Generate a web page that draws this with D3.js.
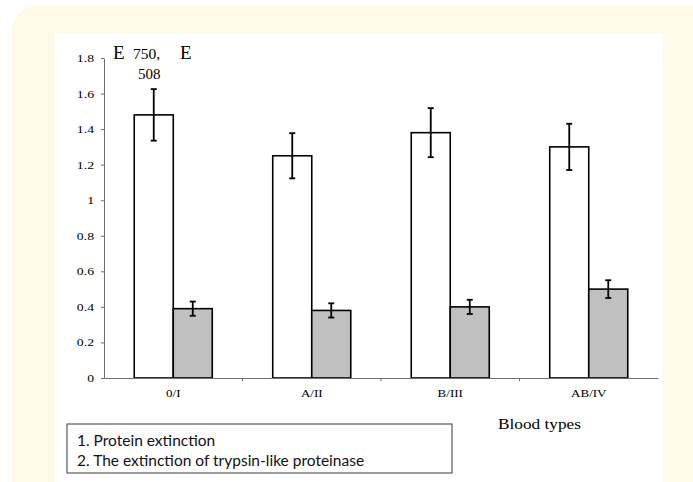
<!DOCTYPE html>
<html>
<head>
<meta charset="utf-8">
<script src="https://cdn.jsdelivr.net/npm/d3@7"></script>
<style>
  body { margin: 0; background: #fff; }
  svg { display: block; }
</style>
</head>
<body>
<div id="chart"></div>
<script>
// values
var bloodTypes = ["0/I", "A/II", "B/III", "AB/IV"];
var proteinExt = [1.48, 1.25, 1.38, 1.30];
var proteinErr = [0.145, 0.127, 0.138, 0.13];
var trypsinExt = [0.39, 0.38, 0.40, 0.50];
var trypsinErr = [0.04, 0.04, 0.04, 0.05];
var yTicks = [0, 0.2, 0.4, 0.6, 0.8, 1, 1.2, 1.4, 1.6, 1.8];
var legendLines = ["1. Protein extinction", "2. The extinction of trypsin-like proteinase"];

var W = 693, H = 482;
var serif = "'Liberation Serif', 'Times New Roman', serif";

var svg = d3.select("#chart").append("svg")
    .attr("width", W)
    .attr("height", H);

// page frame
svg.append("rect")
    .attr("x", 12).attr("y", 6)
    .attr("width", 720).attr("height", 520)
    .attr("rx", 24)
    .attr("fill", "#fffae8");
svg.append("rect")
    .attr("x", 55).attr("y", 33)
    .attr("width", 608).attr("height", 460)
    .attr("fill", "#fff");

// widen glyphs a bit, the original figure is stretched horizontally
function stretch(sel, k) {
    sel.each(function () {
        var w = this.getComputedTextLength();
        d3.select(this)
            .attr("textLength", w * k)
            .attr("lengthAdjust", "spacingAndGlyphs");
    });
}

var x = d3.scaleBand()
    .domain(bloodTypes)
    .range([104, 658]);

var sub = d3.scaleBand()
    .domain([0, 1])
    .range([0, x.bandwidth()])
    .paddingOuter(0.775);

var y = d3.scaleLinear()
    .domain([0, 1.8])
    .range([378, 58]);

var data = bloodTypes.map(function (name, i) {
    return {
        name: name,
        values: [
            {k: 0, v: proteinExt[i], e: proteinErr[i], fill: "#ffffff"},
            {k: 1, v: trypsinExt[i], e: trypsinErr[i], fill: "#c0c0c0"}
        ]
    };
});

// y axis
var yAxis = svg.append("g")
    .attr("transform", "translate(104,0)")
    .call(d3.axisLeft(y)
        .tickValues(yTicks)
        .tickFormat(function (d) { return String(+d.toFixed(1)); })
        .tickSize(3)
        .tickSizeOuter(0)
        .tickPadding(7));
yAxis.select(".domain").attr("stroke", "#6e6e6e");
yAxis.selectAll(".tick line").attr("stroke", "#6e6e6e");
yAxis.selectAll(".tick text")
    .attr("font-family", serif)
    .attr("font-size", 11)
    .attr("fill", "#000")
    .call(stretch, 1.25);

// bars
var groups = svg.selectAll(".grp")
    .data(data)
    .enter().append("g")
    .attr("class", "grp")
    .attr("transform", function (d) { return "translate(" + x(d.name) + ",0)"; });

groups.selectAll(".bar")
    .data(function (d) { return d.values; })
    .enter().append("rect")
    .attr("class", "bar")
    .attr("x", function (d) { return sub(d.k); })
    .attr("width", sub.bandwidth())
    .attr("y", function (d) { return y(d.v); })
    .attr("height", function (d) { return y(0) - y(d.v); })
    .attr("fill", function (d) { return d.fill; })
    .attr("stroke", "#000")
    .attr("stroke-width", 1.6);

// error bars
var err = groups.selectAll(".err")
    .data(function (d) { return d.values; })
    .enter().append("g")
    .attr("class", "err")
    .attr("stroke", "#000")
    .attr("stroke-width", 1.8);
err.append("line")
    .attr("x1", function (d) { return sub(d.k) + sub.bandwidth() / 2; })
    .attr("x2", function (d) { return sub(d.k) + sub.bandwidth() / 2; })
    .attr("y1", function (d) { return y(d.v + d.e); })
    .attr("y2", function (d) { return y(d.v - d.e); });
[1, -1].forEach(function (s) {
    err.append("line")
        .attr("x1", function (d) { return sub(d.k) + sub.bandwidth() / 2 - 3; })
        .attr("x2", function (d) { return sub(d.k) + sub.bandwidth() / 2 + 3; })
        .attr("y1", function (d) { return y(d.v + s * d.e); })
        .attr("y2", function (d) { return y(d.v + s * d.e); });
});

// x axis, ticks sit between the categories
var xAxis = svg.append("g")
    .attr("transform", "translate(0,378)")
    .call(d3.axisBottom(x).tickSize(0).tickSizeOuter(0).tickPadding(12));
xAxis.select(".domain").attr("stroke", "#6e6e6e");
xAxis.selectAll(".tick text")
    .attr("font-family", serif)
    .attr("font-size", 10)
    .attr("fill", "#000")
    .call(stretch, 1.3);
xAxis.selectAll(".sep")
    .data(bloodTypes.slice(0, -1))
    .enter().append("line")
    .attr("class", "sep")
    .attr("x1", function (d) { return x(d) + x.bandwidth(); })
    .attr("x2", function (d) { return x(d) + x.bandwidth(); })
    .attr("y1", 0).attr("y2", 3)
    .attr("stroke", "#6e6e6e");

// y title
var t = svg.append("g").attr("font-family", serif).attr("fill", "#000");
t.append("text").attr("x", 113).attr("y", 59).attr("font-size", 19).text("E");
t.append("text").attr("x", 133).attr("y", 59).attr("font-size", 15.5).text("750,");
t.append("text").attr("x", 180).attr("y", 59).attr("font-size", 19).text("E");
t.append("text").attr("x", 138).attr("y", 79).attr("font-size", 15).text("508");

// x title
svg.append("text")
    .attr("x", 498).attr("y", 429)
    .attr("font-family", serif)
    .attr("font-size", 15)
    .text("Blood types")
    .call(stretch, 1.15);

// legend box
svg.append("rect")
    .attr("x", 67).attr("y", 424)
    .attr("width", 385).attr("height", 49)
    .attr("fill", "#fff")
    .attr("stroke", "#5a5a5a")
    .attr("stroke-width", 1.2);
svg.selectAll(".leg")
    .data(legendLines)
    .enter().append("text")
    .attr("class", "leg")
    .attr("x", 77)
    .attr("y", function (d, i) { return 446 + i * 20; })
    .attr("font-family", "Lato, 'Open Sans', sans-serif")
    .attr("font-size", 15.5)
    .attr("fill", "#111")
    .text(function (d) { return d; });
</script>
</body>
</html>
